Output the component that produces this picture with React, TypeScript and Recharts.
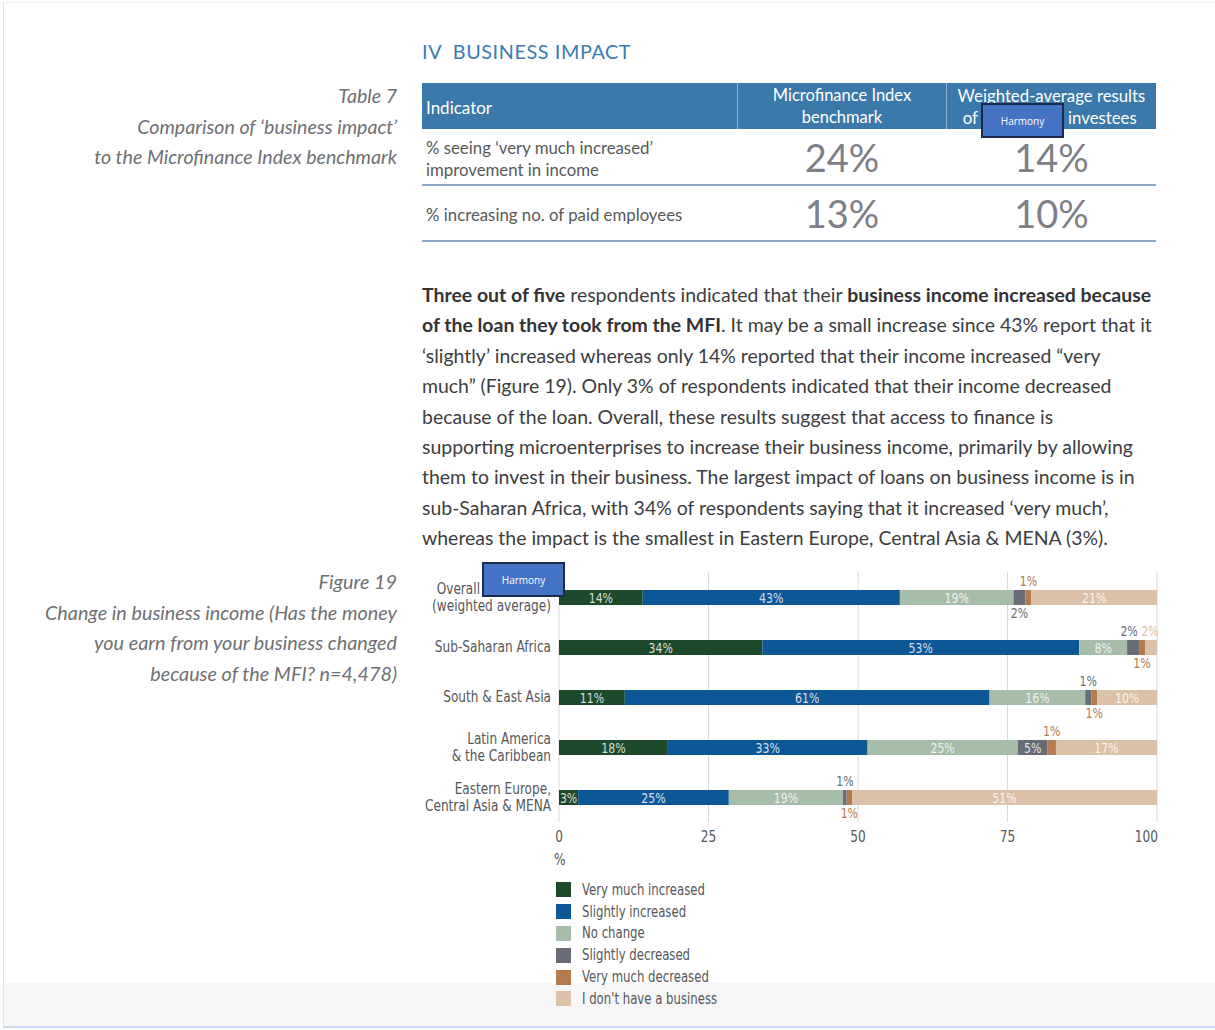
import React from 'react';
import { BarChart, Bar, XAxis, YAxis, CartesianGrid, LabelList } from 'recharts';

// ---------- data ----------
const regions = [
  'Overall\n(weighted average)',
  'Sub-Saharan Africa',
  'South & East Asia',
  'Latin America\n& the Caribbean',
  'Eastern Europe,\nCentral Asia & MENA',
];
const veryMuchIncreased = [14, 34, 11, 18.2, 3.2];
const slightlyIncreased = [43, 53, 61, 33.4, 25.2];
const noChange = [19, 8, 16, 25.1, 19.1];
const slightlyDecreased = [2, 2, 1, 5.0, 0.6];
const veryMuchDecreased = [1, 1, 1, 1.4, 0.9];
const noBusiness = [21, 2, 10, 16.9, 51];

const xTicks = [0, 25, 50, 75, 100];

const seriesKeys = ['vmi', 'si', 'nc', 'sd', 'vmd', 'nb'];
const seriesNames = [
  'Very much increased',
  'Slightly increased',
  'No change',
  'Slightly decreased',
  'Very much decreased',
  "I don't have a business",
];
const seriesColors = ['#1d4a2a', '#0e5796', '#a6bda9', '#686c76', '#b57a4e', '#dcc1a9'];

// where each segment's value label sits (per region)
const labelPlacement: Record<string, string[]> = {
  vmi: ['inside', 'inside', 'inside', 'inside', 'inside'],
  si: ['inside', 'inside', 'inside', 'inside', 'inside'],
  nc: ['inside', 'inside', 'inside', 'inside', 'inside'],
  sd: ['below', 'above', 'above', 'inside', 'above'],
  vmd: ['above', 'below', 'below', 'above', 'below'],
  nb: ['inside', 'above', 'inside', 'inside', 'inside'],
};
// small horizontal nudges (px) for crowded outside labels
const labelNudge: Record<string, number[]> = {
  sd: [0, -4, 0, 0, 0],
  nb: [0, -1, 0, 0, 0],
};

// table data
const tableIndicators = [
  ['% seeing ‘very much increased’', 'improvement in income'],
  ['% increasing no. of paid employees'],
];
const benchmarkValues = ['24%', '13%'];
const investeeValues = ['14%', '10%'];

const chartData = regions.map((r, i) => ({
  region: r,
  vmi: veryMuchIncreased[i],
  si: slightlyIncreased[i],
  nc: noChange[i],
  sd: slightlyDecreased[i],
  vmd: veryMuchDecreased[i],
  nb: noBusiness[i],
}));

// ---------- styles ----------
const NARROW = "'Liberation Sans Narrow', 'DejaVu Sans Condensed', 'Roboto Condensed', sans-serif";
const BODY = "Lato, 'Open Sans', sans-serif";
const CAPTION_COLOR = '#6f7074';
const TEXT_COLOR = '#3d3d3f';
const AXIS_TEXT = '#55575a';
const SQUEEZE = 0.87;

const paragraph: { t: string; b?: boolean }[][] = [
  [{ t: 'Three out of five', b: true }, { t: ' respondents indicated that their ' }, { t: 'business income increased because', b: true }],
  [{ t: 'of the loan they took from the MFI', b: true }, { t: '. It may be a small increase since 43% report that it' }],
  [{ t: '‘slightly’ increased whereas only 14% reported that their income increased “very' }],
  [{ t: 'much” (Figure 19). Only 3% of respondents indicated that their income decreased' }],
  [{ t: 'because of the loan. Overall, these results suggest that access to finance is' }],
  [{ t: 'supporting microenterprises to increase their business income, primarily by allowing' }],
  [{ t: 'them to invest in their business. The largest impact of loans on business income is in' }],
  [{ t: 'sub-Saharan Africa, with 34% of respondents saying that it increased ‘very much’,' }],
  [{ t: 'whereas the impact is the smallest in Eastern Europe, Central Asia & MENA (3%).' }],
];

const makeLabel = (si: number) => (props: any) => {
  const x = Number(props.x);
  const y = Number(props.y);
  const width = Number(props.width);
  const height = Number(props.height);
  const value = Number(props.value);
  const index = Number(props.index);
  const key = seriesKeys[si];
  const pos = (labelPlacement[key] || [])[index] || 'inside';
  const nudge = (labelNudge[key] || [])[index] || 0;
  const cx = x + width / 2 + nudge;
  let ty: number;
  let fill: string;
  if (pos === 'inside') {
    ty = y + height / 2 + 5;
    fill = 'rgba(255,255,255,0.82)';
  } else if (pos === 'above') {
    ty = y - 4;
    fill = seriesColors[si];
  } else {
    ty = y + height + 13;
    fill = seriesColors[si];
  }
  return (
    <g transform={`translate(${cx},${ty}) scale(${SQUEEZE},1)`}>
      <text x={0} y={0} textAnchor="middle" fontSize={14} fill={fill} fontFamily={NARROW}>
        {Math.round(value)}%
      </text>
    </g>
  );
};

const YTick = (props: any) => {
  const { x, y, payload, index } = props;
  const lines = String(payload.value).split('\n');
  const lh = 17;
  const start = -((lines.length - 1) * lh) / 2;
  return (
    <g>
      {lines.map((l, i) => {
        // first line of the overall row leaves room for the redaction box after it
        const shift = index === 0 && i === 0 ? -71 : 0;
        return (
          <g key={i} transform={`translate(${x + shift},${y + start + i * lh + 5}) scale(${SQUEEZE},1)`}>
            <text x={0} y={0} textAnchor="end" fontSize={15.5} fill={AXIS_TEXT} fontFamily={NARROW}>
              {l}
            </text>
          </g>
        );
      })}
    </g>
  );
};

const XTick = (props: any) => {
  const { x, y, payload } = props;
  const isLast = payload.value === xTicks[xTicks.length - 1];
  return (
    <g transform={`translate(${isLast ? x + 3 : x},${y + 12}) scale(${SQUEEZE},1)`}>
      <text x={0} y={0} textAnchor={isLast ? 'end' : 'middle'} fontSize={15.5} fill={AXIS_TEXT} fontFamily={NARROW}>
        {payload.value}
      </text>
    </g>
  );
};

const abs = (left: number, top: number, extra: React.CSSProperties = {}): React.CSSProperties => ({
  position: 'absolute',
  left,
  top,
  ...extra,
});

const Harmony = ({ left, top }: { left: number; top: number }) => (
  <div
    style={abs(left, top, {
      width: 83,
      height: 35,
      boxSizing: 'border-box',
      border: '2px solid #1c2b4d',
      background: '#4472c4',
      color: '#ffffff',
      fontFamily: "'Open Sans', sans-serif",
      fontSize: 10,
      display: 'flex',
      alignItems: 'center',
      justifyContent: 'center',
    })}
  >
    Harmony
  </div>
);

const narrowText: React.CSSProperties = {
  fontFamily: NARROW,
  fontSize: 15.5,
  color: AXIS_TEXT,
  whiteSpace: 'nowrap',
  transform: `scaleX(${SQUEEZE})`,
  transformOrigin: 'left center',
};

export default function App() {
  return (
    <div
      style={{
        position: 'absolute',
        left: 0,
        top: 0,
        width: 1215,
        height: 1030,
        background: '#ffffff',
        overflow: 'hidden',
        fontFamily: BODY,
      }}
    >
      {/* page frame */}
      <div style={abs(3, 2, { width: 1212, height: 1, background: '#eef0f6' })} />
      <div style={abs(3, 2, { width: 1, height: 1026, background: '#dde4ef' })} />
      <div style={abs(4, 983, { width: 1211, height: 43, background: '#f6f6f6' })} />
      <div style={abs(3, 1026, { width: 1212, height: 2, background: '#cddcf0' })} />

      {/* section title */}
      <div style={abs(422, 38, { fontSize: 19.8, lineHeight: '26px', color: '#3b7bb4', letterSpacing: 0.6, whiteSpace: 'nowrap' })}>
        IV&nbsp;&nbsp;BUSINESS IMPACT
      </div>

      {/* table caption */}
      <div
        style={abs(0, 81, {
          width: 397,
          textAlign: 'right',
          fontStyle: 'italic',
          fontSize: 19.6,
          lineHeight: '30.5px',
          color: CAPTION_COLOR,
          whiteSpace: 'nowrap',
        })}
      >
        <div>Table 7</div>
        <div>Comparison of ‘business impact’</div>
        <div>to the Microfinance Index benchmark</div>
      </div>

      {/* table */}
      <div style={abs(422, 83, { width: 734, height: 46, background: '#3b79aa' })} />
      <div style={abs(737, 83, { width: 1, height: 46, background: '#8fb2d2' })} />
      <div style={abs(946, 83, { width: 1, height: 46, background: '#8fb2d2' })} />
      <div style={abs(426, 96, { fontSize: 17, lineHeight: '24px', color: '#ffffff' })}>Indicator</div>
      <div style={abs(738, 85, { width: 208, textAlign: 'center', fontSize: 16.5, lineHeight: '21.5px', color: '#ffffff' })}>
        <div>Microfinance Index</div>
        <div>benchmark</div>
      </div>
      <div style={abs(947, 85, { width: 209, textAlign: 'center', fontSize: 16.8, lineHeight: '21.5px', color: '#ffffff', whiteSpace: 'nowrap' })}>
        Weighted-average results
      </div>
      <div style={abs(900, 106.5, { width: 78, textAlign: 'right', fontSize: 16.8, lineHeight: '21.5px', color: '#ffffff' })}>of</div>
      <div style={abs(1068, 106.5, { fontSize: 16.8, lineHeight: '21.5px', color: '#ffffff', whiteSpace: 'nowrap' })}>investees</div>
      {tableIndicators.map((lines, i) => {
        const rowTop = i === 0 ? 130 : 185;
        const rowH = i === 0 ? 54 : 55;
        return (
          <React.Fragment key={i}>
            <div
              style={abs(426, rowTop + 2, {
                height: rowH,
                display: 'flex',
                flexDirection: 'column',
                justifyContent: 'center',
                fontSize: 16.8,
                lineHeight: '22px',
                color: '#58595b',
                whiteSpace: 'nowrap',
              })}
            >
              {lines.map((l, j) => (
                <div key={j}>{l}</div>
              ))}
            </div>
            <div
              style={abs(738, rowTop, {
                width: 208,
                height: rowH,
                display: 'flex',
                alignItems: 'center',
                justifyContent: 'center',
                fontSize: 38,
                fontWeight: 400,
                color: '#7d8086',
              })}
            >
              {benchmarkValues[i]}
            </div>
            <div
              style={abs(947, rowTop, {
                width: 209,
                height: rowH,
                display: 'flex',
                alignItems: 'center',
                justifyContent: 'center',
                fontSize: 38,
                fontWeight: 400,
                color: '#7d8086',
              })}
            >
              {investeeValues[i]}
            </div>
            <div style={abs(422, rowTop + rowH, { width: 734, height: 1.5, background: '#8ca8c6' })} />
          </React.Fragment>
        );
      })}
      <Harmony left={981} top={103} />

      {/* paragraph */}
      <div style={abs(422, 280, { fontSize: 19.45, lineHeight: '30.4px', color: TEXT_COLOR, whiteSpace: 'nowrap' })}>
        {paragraph.map((line, i) => (
          <div key={i}>
            {line.map((seg, j) => (
              <span key={j} style={seg.b ? { fontWeight: 700, color: '#333335' } : undefined}>
                {seg.t}
              </span>
            ))}
          </div>
        ))}
      </div>

      {/* figure caption */}
      <div
        style={abs(0, 566, {
          width: 397,
          textAlign: 'right',
          fontStyle: 'italic',
          fontSize: 19.8,
          lineHeight: '30.5px',
          color: CAPTION_COLOR,
          whiteSpace: 'nowrap',
        })}
      >
        <div>Figure 19</div>
        <div>Change in business income (Has the money</div>
        <div>you earn from your business changed</div>
        <div>because of the MFI? n=4,478)</div>
      </div>

      {/* chart */}
      <div style={abs(410, 560)}>
        <BarChart
          width={757}
          height={300}
          data={chartData}
          layout="vertical"
          margin={{ top: 12, right: 10, left: 0, bottom: 0 }}
          barSize={15}
        >
          <CartesianGrid horizontal={false} vertical stroke="#d9d9d9" />
          <XAxis
            type="number"
            domain={[0, 100]}
            ticks={xTicks}
            axisLine={false}
            tickLine={false}
            height={38}
            tick={<XTick />}
            allowDataOverflow
          />
          <YAxis
            type="category"
            dataKey="region"
            width={149}
            axisLine={false}
            tickLine={false}
            tick={<YTick />}
            interval={0}
          />
          {seriesKeys.map((k, si) => (
            <Bar key={k} dataKey={k} stackId="a" fill={seriesColors[si]} isAnimationActive={false} name={seriesNames[si]}>
              <LabelList dataKey={k} content={makeLabel(si)} />
            </Bar>
          ))}
        </BarChart>
      </div>
      <Harmony left={482} top={562} />

      {/* x axis unit */}
      <div style={abs(554, 850, { ...narrowText, lineHeight: '20px' })}>%</div>

      {/* legend */}
      <div style={abs(556, 879)}>
        {seriesNames.map((n, i) => (
          <div key={n} style={{ display: 'flex', alignItems: 'center', height: 21.8 }}>
            <div style={{ width: 15, height: 15, background: seriesColors[i] }} />
            <div style={{ marginLeft: 11, ...narrowText, transform: 'scaleX(0.84)' }}>{n}</div>
          </div>
        ))}
      </div>
    </div>
  );
}
